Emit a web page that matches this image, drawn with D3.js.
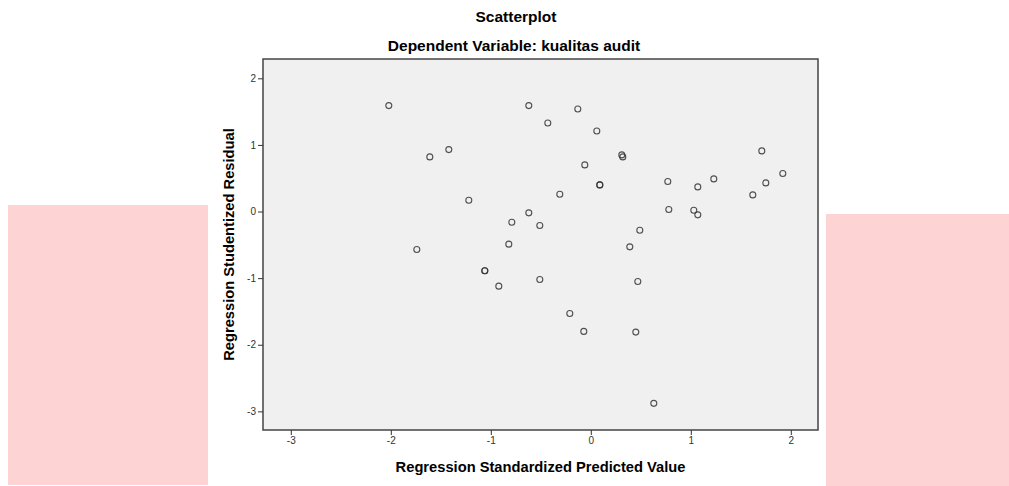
<!DOCTYPE html>
<html>
<head>
<meta charset="utf-8">
<script src="https://cdn.jsdelivr.net/npm/d3@7/dist/d3.min.js"></script>
<style>
    body { margin: 0; background: #fff; }
    svg { display: block; }
    text { font-family: Arial, "Liberation Sans", sans-serif; }
</style>
</head>
<body>
<svg id="chart" width="1009" height="486"></svg>
<script>
// regression standardized predicted value
var predicted = [-2.02, -1.61, -1.42, -1.22, -1.74, -1.06, -1.06, -0.92, -0.82, -0.79,
    -0.62, -0.62, -0.51, -0.51, -0.43, -0.31, -0.21, -0.13, -0.07, -0.06,
    0.06, 0.09, 0.09, 0.31, 0.32, 0.39, 0.47, 0.45, 0.49, 0.63,
    0.77, 0.78, 1.03, 1.07, 1.07, 1.23, 1.62, 1.71, 1.75, 1.92];
// regression studentized residual
var residual = [1.59, 0.82, 0.93, 0.17, -0.57, -0.89, -0.89, -1.12, -0.49, -0.16,
    -0.02, 1.59, -0.21, -1.02, 1.33, 0.26, -1.53, 1.54, -1.80, 0.70,
    1.21, 0.40, 0.40, 0.85, 0.82, -0.53, -1.05, -1.81, -0.28, -2.88,
    0.45, 0.03, 0.02, -0.05, 0.37, 0.49, 0.25, 0.91, 0.43, 0.57];
var xTicks = [-3, -2, -1, 0, 1, 2];
var yTicks = [-3, -2, -1, 0, 1, 2];

function draw_chart() {
    let svg = d3.select("#chart");
    let margin = ({top: 59, right: 191, bottom: 56, left: 263});
    let width = +svg.attr("width");
    let height = +svg.attr("height");

    // pink blocks behind the chart on both sides
    svg.append("rect").attr("x", 8).attr("y", 205).attr("width", 200).attr("height", 280)
        .attr("fill", "#fdd3d4");
    svg.append("rect").attr("x", 826).attr("y", 214).attr("width", 183).attr("height", 272)
        .attr("fill", "#fdd3d4");

    let x = d3.scaleLinear()
        .domain([-3.278, 2.272])
        .range([margin.left, width - margin.right]);
    let y = d3.scaleLinear()
        .domain([-3.28, 2.29])
        .range([height - margin.bottom, margin.top]);

    svg.append("rect")
        .attr("x", margin.left).attr("y", margin.top)
        .attr("width", width - margin.right - margin.left)
        .attr("height", height - margin.bottom - margin.top)
        .attr("fill", "#f0f0f0")
        .attr("stroke", "#444")
        .attr("stroke-width", 1.5);

    let x_axis = g => g
        .attr("transform", `translate(0, ${height - margin.bottom})`)
        .call(d3.axisBottom(x).tickValues(xTicks).tickSize(5).tickPadding(2).tickFormat(d => d))
        .call(g => g.select(".domain").remove());
    let y_axis = g => g
        .attr("transform", `translate(${margin.left}, 0)`)
        .call(d3.axisLeft(y).tickValues(yTicks).tickSize(5).tickPadding(2).tickFormat(d => d))
        .call(g => g.select(".domain").remove());

    svg.append("g").call(x_axis);
    svg.append("g").call(y_axis);
    svg.selectAll(".tick line").attr("stroke", "#333");
    svg.selectAll(".tick text")
        .style("font-family", "Arial, 'Liberation Sans', sans-serif")
        .style("font-size", "10px")
        .attr("fill", "#333");

    let pts = predicted.map((d, i) => ({px: d, r: residual[i]}));
    svg.append("g").selectAll("circle")
        .data(pts)
        .join("circle")
        .attr("cx", d => x(d.px))
        .attr("cy", d => y(d.r))
        .attr("r", 3)
        .attr("fill", "none")
        .attr("stroke", "#333")
        .attr("stroke-opacity", 0.85)
        .attr("stroke-width", 1.1);

    svg.append("text")
        .attr("x", 516).attr("y", 22)
        .attr("text-anchor", "middle")
        .style("font-size", "15.5px").style("font-weight", "bold")
        .text("Scatterplot");
    svg.append("text")
        .attr("x", 514).attr("y", 51)
        .attr("text-anchor", "middle")
        .style("font-size", "15.5px").style("font-weight", "bold")
        .text("Dependent Variable: kualitas audit");
    svg.append("text")
        .attr("x", (margin.left + width - margin.right) / 2).attr("y", 472)
        .attr("text-anchor", "middle")
        .style("font-size", "14.7px").style("font-weight", "bold")
        .text("Regression Standardized Predicted Value");
    svg.append("text")
        .attr("transform", `translate(234, ${(margin.top + height - margin.bottom) / 2}) rotate(-90)`)
        .attr("text-anchor", "middle")
        .style("font-size", "14.7px").style("font-weight", "bold")
        .text("Regression Studentized Residual");
}

draw_chart();
</script>
</body>
</html>
